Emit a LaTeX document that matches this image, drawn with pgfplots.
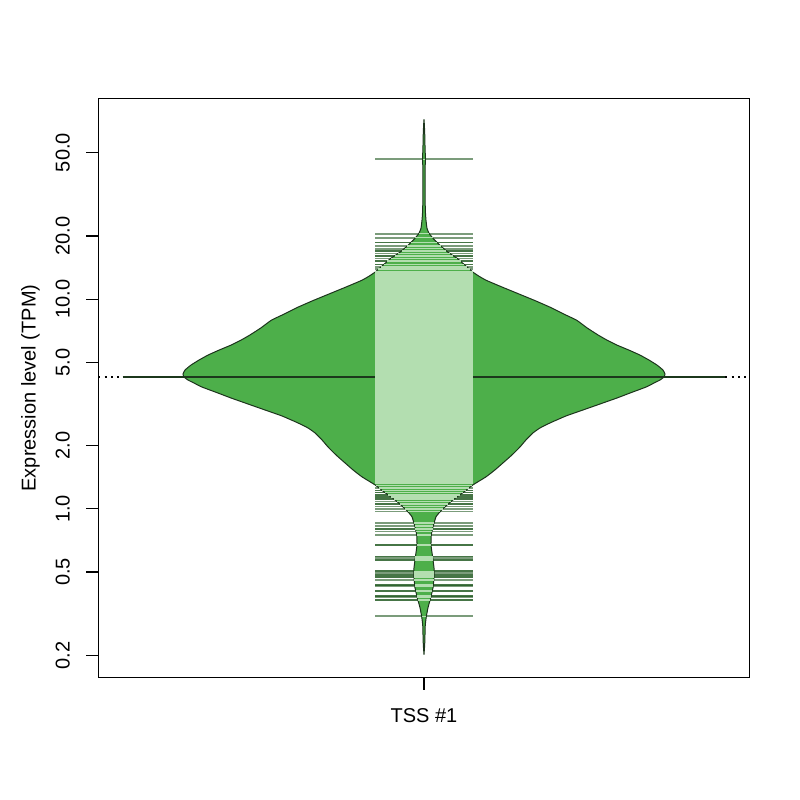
\documentclass[border=0pt]{standalone}
\usepackage{fontspec}
\setmainfont{Liberation Sans}
\usepackage{pgfplots}
\usepackage{pgfplotstable}
\pgfplotsset{compat=1.18}
\definecolor{beanfill}{RGB}{77,175,74}
\definecolor{beanedge}{RGB}{28,52,28}
\definecolor{avgcol}{RGB}{28,56,28}
\definecolor{innerl}{RGB}{179,222,176}
\definecolor{outerl}{RGB}{35,90,35}

% bean outline (density), right side bottom->top, left side top->bottom
\pgfplotstableread{
x y
1.00000 0.20173
1.00116 0.22511
1.00166 0.25119
1.00216 0.28031
1.00381 0.30590
1.00663 0.33772
1.01111 0.37689
1.01493 0.42051
1.01658 0.46921
1.01658 0.52360
1.01376 0.60392
1.01161 0.67388
1.01211 0.75187
1.01493 0.82099
1.01990 0.91596
1.02653 0.96762
1.03483 1.0222
1.04809 1.1036
1.06633 1.2050
1.08126 1.3013
1.10282 1.4206
1.11774 1.5336
1.13101 1.6559
1.14594 1.8076
1.15920 1.9736
1.16915 2.1313
1.18076 2.3014
1.19237 2.4308
1.20896 2.5678
1.23549 2.7727
1.26368 2.9610
1.29187 3.1623
1.32007 3.3776
1.34163 3.5674
1.36816 3.8098
1.38143 3.9811
1.39138 4.1143
1.39801 4.2519
1.39967 4.3940
1.39635 4.5913
1.38640 4.8507
1.37313 5.1242
1.35821 5.4117
1.33997 5.7158
1.32007 6.0389
1.30348 6.3789
1.28900 6.7397
1.27100 7.2770
1.25300 7.9433
1.23217 8.4834
1.20896 9.1600
1.18242 9.8910
1.15423 10.680
1.12604 11.533
1.10282 12.316
1.09121 12.868
1.08126 13.449
1.06799 14.521
1.05473 15.679
1.03980 16.744
1.02653 18.076
1.01493 19.520
1.00829 20.620
1.00498 21.782
1.00332 23.779
1.00249 25.676
1.00182 29.605
1.00166 34.904
1.00182 41.152
1.00232 46.947
1.00166 54.117
1.00116 62.412
1.00000 71.969
0.99884 62.412
0.99834 54.117
0.99768 46.947
0.99818 41.152
0.99834 34.904
0.99818 29.605
0.99751 25.676
0.99668 23.779
0.99502 21.782
0.99171 20.620
0.98507 19.520
0.97347 18.076
0.96020 16.744
0.94527 15.679
0.93201 14.521
0.91874 13.449
0.90879 12.868
0.89718 12.316
0.87396 11.533
0.84577 10.680
0.81758 9.8910
0.79104 9.1600
0.76783 8.4834
0.74700 7.9433
0.72900 7.2770
0.71100 6.7397
0.69652 6.3789
0.67993 6.0389
0.66003 5.7158
0.64179 5.4117
0.62687 5.1242
0.61360 4.8507
0.60365 4.5913
0.60033 4.3940
0.60199 4.2519
0.60862 4.1143
0.61857 3.9811
0.63184 3.8098
0.65837 3.5674
0.67993 3.3776
0.70813 3.1623
0.73632 2.9610
0.76451 2.7727
0.79104 2.5678
0.80763 2.4308
0.81924 2.3014
0.83085 2.1313
0.84080 1.9736
0.85406 1.8076
0.86899 1.6559
0.88226 1.5336
0.89718 1.4206
0.91874 1.3013
0.93367 1.2050
0.95191 1.1036
0.96517 1.0222
0.97347 0.96762
0.98010 0.91596
0.98507 0.82099
0.98789 0.75187
0.98839 0.67388
0.98624 0.60392
0.98342 0.52360
0.98342 0.46921
0.98507 0.42051
0.98889 0.37689
0.99337 0.33772
0.99619 0.30590
0.99784 0.28031
0.99834 0.25119
0.99884 0.22511
1.00000 0.20173
}\beanshape

% data lines outside the dense core (full length)
\pgfplotstableread{
y
46.42
20.55
19.67
18.62
17.94
17.43
16.98
16.51
16.08
15.62
15.17
14.63
14.25
13.90
13.49
1.291
1.255
1.222
1.196
1.166
1.137
1.112
1.083
1.056
1.026
0.9968
0.9708
0.8548
0.8299
0.8003
0.7795
0.7518
0.6738
0.5927
0.5823
0.5716
0.5032
0.4943
0.4852
0.4729
0.4590
0.4345
0.4266
0.4070
0.3852
0.3781
0.3686
0.3070
}\outerlines

% tied values (drawn twice)
\pgfplotstableread{
y
18.62
16.98
16.08
15.17
14.63
1.222
1.196
1.166
1.137
1.112
1.056
0.8003
0.6738
0.5927
0.5716
0.5032
0.4852
0.4729
0.4345
0.4070
0.3852
0.3686
}\outerdup

% parts of the lines inside the bean: y, half length
\pgfplotstableread{
y e
46.42 0.0022
20.55 0.0083
19.67 0.0141
18.62 0.0216
17.94 0.0282
17.43 0.0323
16.98 0.0373
16.51 0.0425
16.08 0.0486
15.62 0.0552
15.17 0.0606
14.63 0.0667
14.25 0.0712
13.90 0.0756
13.49 0.0808
1.326 0.0813
1.291 0.0798
1.255 0.0741
1.222 0.0690
1.196 0.0647
1.166 0.0596
1.137 0.0543
1.112 0.0498
1.083 0.0441
1.056 0.0405
1.026 0.0353
0.9968 0.0312
0.9708 0.0269
0.8548 0.0166
0.8299 0.0151
0.8003 0.0143
0.7795 0.0133
0.7518 0.0121
0.6738 0.0116
0.5927 0.0141
0.5823 0.0143
0.5716 0.0146
0.5032 0.0166
0.4943 0.0166
0.4852 0.0166
0.4729 0.0166
0.4590 0.0163
0.4345 0.0154
0.4266 0.0151
0.4070 0.0138
0.3852 0.0119
0.3781 0.0113
0.3686 0.0103
0.3070 0.0040
}\innerlines

\begin{document}
\begin{tikzpicture}
\useasboundingbox (-59.04pt,-73.44pt) rectangle (420.96pt,406.56pt);
\begin{axis}[
  at={(0,0)}, anchor=south west,
  scale only axis, width=390.72pt, height=347.52pt,
  xmin=0.46, xmax=1.54,
  ymode=log, ymin=0.1567, ymax=90.7,
  xtick={1}, xticklabels={TSS \#1},
  ytick={0.2,0.5,1,2,5,10,20,50},
  yticklabels={0.2,0.5,1.0,2.0,5.0,10.0,20.0,50.0},
  yminorticks=false, xminorticks=false,
  tick pos=left,
  tick align=outside, major tick length=7.2pt,
  every tick/.style={black, line width=0.75pt},
  axis line style={black, line width=0.75pt},
  ticklabel style={font=\fontsize{12}{14.4}\selectfont, inner sep=0pt},
  xticklabel style={anchor=base, yshift=-19.8pt},
  yticklabel style={xshift=-10pt, rotate=90, anchor=base},
  ylabel={Expression level (TPM)},
  every axis y label/.style={at={(axis description cs:0,0.5)}, xshift=-37.6pt, rotate=90, anchor=base, font=\fontsize{12}{14.4}\selectfont, inner sep=0pt},
]
% overall average (dotted)
\addplot [black, line width=0.75pt, dash pattern=on 1.2pt off 2.6pt, forget plot]
  coordinates {(0.46,4.2519) (1.54,4.2519)};
% beanlines outside the bean
\addplot [draw=none, mark=none, forget plot,
  error bars/.cd, x dir=both, x explicit, error mark=none,
  error bar style={draw=outerl, line width=1.1pt, opacity=0.6}]
  table [x expr=1, y=y, x error expr=0.0813] {\outerlines};
\addplot [draw=none, mark=none, forget plot,
  error bars/.cd, x dir=both, x explicit, error mark=none,
  error bar style={draw=outerl, line width=1.1pt, opacity=0.6}]
  table [x expr=1, y=y, x error expr=0.0813] {\outerdup};
% the bean
\addplot [fill=beanfill, draw=beanedge, line width=0.6pt, smooth, tension=0.25, forget plot]
  table [x=x, y=y] {\beanshape};
% bean average line
\addplot [avgcol, line width=1.5pt, forget plot]
  coordinates {(0.5,4.2519) (1.5,4.2519)};
% dense core of beanlines
\addplot [fill=innerl, draw=none, forget plot]
  coordinates {(0.9187,13.49) (1.0813,13.49) (1.0813,1.326) (0.9187,1.326)} -- cycle;
% beanlines inside the bean
\addplot [draw=none, mark=none, forget plot,
  error bars/.cd, x dir=both, x explicit, error mark=none,
  error bar style={draw=innerl, line width=1.0pt}]
  table [x expr=1, y=y, x error=e] {\innerlines};
\end{axis}
\end{tikzpicture}
\end{document}
